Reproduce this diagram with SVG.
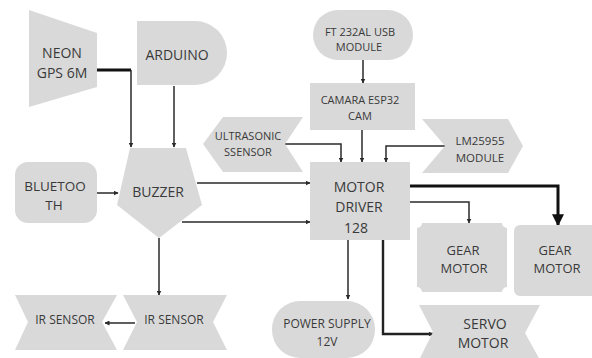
<svg xmlns="http://www.w3.org/2000/svg" width="592" height="358" viewBox="0 0 592 358">
<defs>
<style>
.s{fill:#d9d9d9;stroke:none}
text{font-family:"Open Sans","Liberation Sans",sans-serif;fill:#3a3a3a;text-anchor:middle}
.c{fill:none;stroke:#2a2a2a;stroke-width:1.5}
.t{fill:none;stroke:#111;stroke-width:3}
.m{fill:none;stroke:#222;stroke-width:2.4}
</style>
<marker id="a" viewBox="0 0 10 10" refX="9" refY="5" markerWidth="5" markerHeight="5" orient="auto" markerUnits="userSpaceOnUse"><path d="M0,0 L10,5 L0,10 z" fill="#2a2a2a"/></marker>
<marker id="b" viewBox="0 0 10 10" refX="9" refY="5" markerWidth="12" markerHeight="12" orient="auto" markerUnits="userSpaceOnUse"><path d="M0,0 L10,5 L0,10 z" fill="#111"/></marker>
</defs>
<rect width="592" height="358" fill="#ffffff"/>

<g id="connectors">
<path class="t" d="M97,70 H131"/>
<path class="c" d="M131,70 V147" marker-end="url(#a)"/>
<path class="c" d="M174,86 V147" marker-end="url(#a)"/>
<path class="c" d="M91,193 H118" marker-end="url(#a)"/>
<path class="c" d="M197,183 H310" marker-end="url(#a)"/>
<path class="c" d="M182,222 H310" marker-end="url(#a)"/>
<path class="c" d="M159,238 V295" marker-end="url(#a)"/>
<path class="c" d="M135,323 H105" marker-end="url(#a)"/>
<path class="c" d="M283,144 H341 V162" marker-end="url(#a)"/>
<path class="c" d="M363,60 V83" marker-end="url(#a)"/>
<path class="c" d="M362,130 V162" marker-end="url(#a)"/>
<path class="c" d="M445,146 H386 V162" marker-end="url(#a)"/>
<path class="t" d="M410,186 H558 V225" marker-end="url(#b)"/>
<path class="c" d="M410,202 H469 V223" marker-end="url(#a)"/>
<path class="c" d="M348,240 V299" marker-end="url(#a)"/>
<path class="m" d="M383,240 V334 H433" marker-end="url(#a)"/>
</g>

<g id="neon">
<polygon class="s" points="29,10 97,33 97,87 29,107"/>
<text x="62" y="58" font-size="14">NEON</text>
<text x="62" y="78" font-size="14">GPS 6M</text>
</g>

<g id="arduino">
<path class="s" d="M137,21 H195 A32,32 0 0 1 195,85 H137 Z"/>
<text x="177" y="60" font-size="14">ARDUINO</text>
</g>

<g id="ft232">
<rect class="s" x="313" y="10" width="100" height="50" rx="25"/>
<text x="360" y="36" font-size="11">FT 232AL USB</text>
<text x="359" y="51" font-size="11">MODULE</text>
</g>

<g id="camera">
<rect class="s" x="310" y="83" width="105" height="47"/>
<text x="360" y="104" font-size="11">CAMARA ESP32</text>
<text x="360" y="120" font-size="11">CAM</text>
</g>

<g id="ultrasonic">
<polygon class="s" points="223,117 303,117 285,144 303,172 223,172 203,144"/>
<text x="248" y="140" font-size="11">ULTRASONIC</text>
<text x="248" y="156" font-size="11">SSENSOR</text>
</g>

<g id="lm25955">
<polygon class="s" points="422,119 508,119 523,146 508,173 422,173 445,146"/>
<text x="480" y="145" font-size="11.5">LM25955</text>
<text x="480" y="162" font-size="11.5">MODULE</text>
</g>

<g id="motordriver">
<rect class="s" x="310" y="162" width="100" height="78"/>
<text x="359" y="192" font-size="14">MOTOR</text>
<text x="359" y="212" font-size="14">DRIVER</text>
<text x="356" y="233" font-size="14">128</text>
</g>

<g id="bluetooth">
<rect class="s" x="15" y="162" width="82" height="61" rx="13"/>
<text x="55" y="191" font-size="13.5">BLUETOO</text>
<text x="54" y="210" font-size="13.5">TH</text>
</g>

<g id="buzzer">
<polygon class="s" points="130,148 186,148 202,205 159,238 117,205"/>
<text x="158" y="197" font-size="14">BUZZER</text>
</g>

<g id="irsensor2">
<polygon class="s" points="123,295 227,295 213,322 227,350 123,350 137,322"/>
<text x="174" y="324" font-size="12">IR SENSOR</text>
</g>

<g id="irsensor1">
<polygon class="s" points="15,295 117,295 102,322 117,350 15,350 28,322"/>
<text x="65" y="324" font-size="12">IR SENSOR</text>
</g>

<g id="gearmotor1">
<path class="s" d="M422,223 H502 A5,5 0 0 0 507,228 V287 A5,5 0 0 0 502,292 H422 A5,5 0 0 0 417,287 V228 A5,5 0 0 0 422,223 Z"/>
<text x="463" y="255" font-size="13">GEAR</text>
<text x="464" y="273" font-size="13">MOTOR</text>
</g>

<g id="gearmotor2">
<rect class="s" x="514" y="225" width="86" height="71" rx="6"/>
<text x="555" y="255" font-size="13">GEAR</text>
<text x="557" y="273" font-size="13">MOTOR</text>
</g>

<g id="powersupply">
<rect class="s" x="272" y="301" width="103" height="57" rx="28"/>
<text x="327" y="328" font-size="12">POWER SUPPLY</text>
<text x="327" y="346" font-size="12">12V</text>
</g>

<g id="servo">
<polygon class="s" points="419,305 540,305 525,333 540,360 419,360 433,332"/>
<text x="485" y="329" font-size="14">SERVO</text>
<text x="483" y="348" font-size="14">MOTOR</text>
</g>
</svg>
